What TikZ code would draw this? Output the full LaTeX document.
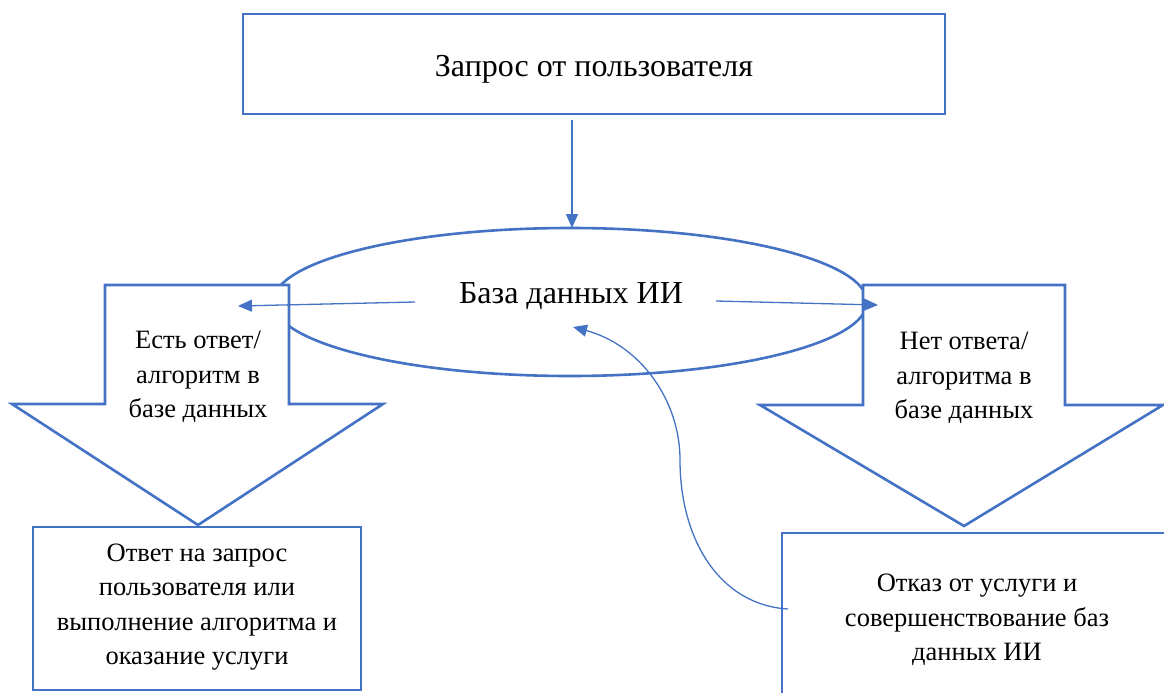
\documentclass[tikz,border=0pt]{standalone}
\usepackage{fontspec}
\setmainfont{LiberationSerif}[Extension=.ttf, UprightFont=*-Regular, BoldFont=*-Bold, ItalicFont=*-Italic, BoldItalicFont=*-BoldItalic]
\usetikzlibrary{arrows.meta}
\definecolor{wblue}{HTML}{4472C4}
\tikzset{
  shapeline/.style={draw=wblue, line width=2.6pt, fill=white, line join=miter},
  conn/.style={draw=wblue, line width=1.3pt, -{Triangle[length=14pt,width=12pt]}},
  bodytext/.style={align=center, font=\fontsize{26.5}{34.5}\selectfont, inner sep=0pt},
}
\begin{document}
\begin{tikzpicture}[x=1pt, y=-1pt]
\useasboundingbox (0,0) rectangle (1164,693);
\clip (0,0) rectangle (1164,693);
% top box
\node[shapeline, minimum width=702pt, minimum height=100pt, inner sep=0pt] (query) at (594,64) {};
\node[inner sep=0pt, font=\fontsize{32}{38}\selectfont] (querytext) at (594,69) {Запрос от пользователя};
% ellipse
\draw[draw=wblue, line width=2.6pt] (570,302) ellipse [x radius=297, y radius=74];
\node[inner sep=0pt, font=\fontsize{32}{38}\selectfont] (db) at (571,296) {База данных ИИ};
\coordinate (dbtop) at (572,228);
% left block arrow
\draw[shapeline] (105,285) -- (289,285) -- (289,404) -- (383,404) -- (198,525) -- (12,404) -- (105,404) -- cycle;
\node[bodytext] (yes) at (198,377) {Есть ответ/\\алгоритм в\\базе данных};
% right block arrow
\draw[shapeline] (863,285) -- (1065,285) -- (1065,405) -- (1163,405) -- (964,526) -- (760,405) -- (863,405) -- cycle;
\node[bodytext] (no) at (964,378) {Нет ответа/\\алгоритма в\\базе данных};
% bottom left box
\node[shapeline, minimum width=328pt, minimum height=163pt, inner sep=0pt] (answer) at (197,608.5) {};
\node[bodytext] (answertext) at (197,607) {Ответ на запрос\\пользователя или\\выполнение алгоритма и\\оказание услуги};
% bottom right box
\draw[shapeline] (782,533) rectangle (1200,730);
\coordinate (refuse) at (782,609);
\node[bodytext] (refusetext) at (977,620) {Отказ от услуги и\\совершенствование баз\\данных ИИ};
% connectors
\coordinate (qbot) at (572,120);
\draw[conn] (qbot) -- (dbtop);
\coordinate (lstart) at (415,302);
\coordinate (lend) at (238,306);
\draw[conn] (lstart) -- (lend);
\coordinate (rstart) at (716,301);
\coordinate (rend) at (878,305);
\draw[conn] (rstart) -- (rend);
\coordinate (fbstart) at (788,609);
\coordinate (fbend) at (573,327);
\draw[conn] (fbstart) .. controls (720,605) and (680,540) .. (680,460) .. controls (680,400) and (640,345) .. (fbend);
\end{tikzpicture}
\end{document}
